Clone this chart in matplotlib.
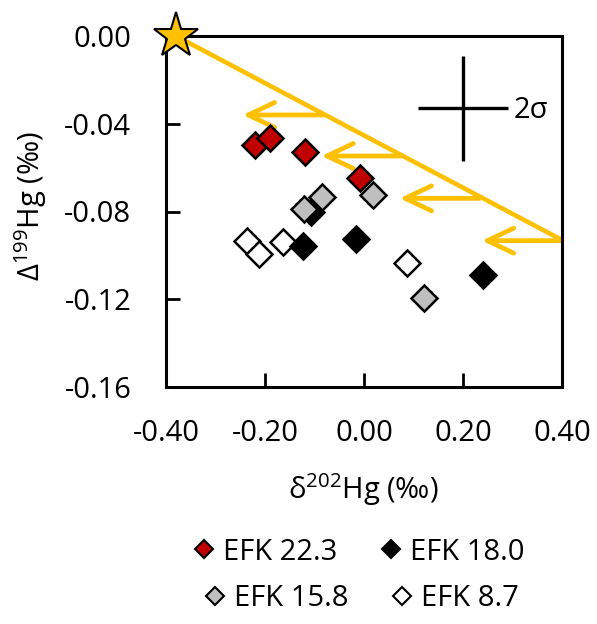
import matplotlib.pyplot as plt
from matplotlib.lines import Line2D

plt.rcParams['font.family'] = ['Open Sans', 'DejaVu Sans']
plt.rcParams['mathtext.fontset'] = 'custom'
plt.rcParams['mathtext.rm'] = 'Open Sans'

# delta202Hg / Delta199Hg (permil) per site
efk223_d202 = [-0.220, -0.190, -0.120, -0.008]
efk223_D199 = [-0.0497, -0.0464, -0.0527, -0.0649]
efk180_d202 = [-0.107, -0.123, -0.016, 0.240]
efk180_D199 = [-0.080, -0.0956, -0.0925, -0.109]
efk158_d202 = [-0.121, -0.084, 0.019, 0.122]
efk158_D199 = [-0.079, -0.0735, -0.0725, -0.1196]
efk87_d202 = [-0.237, -0.212, -0.163, 0.086]
efk87_D199 = [-0.0933, -0.0994, -0.0940, -0.1036]

# source end-member and mixing line
source_d202, source_D199 = -0.38, 0.00
mix_d202, mix_D199 = 0.40, -0.093

# MDF shift arrows starting on the mixing line
arrow_d202 = [-0.083, 0.076, 0.234, 0.40]
arrow_D199 = [-0.036, -0.0547, -0.074, -0.0933]
arrow_shift = -0.162

# analytical uncertainty (2 sigma)
sig_d202, sig_D199 = 0.20, -0.033
sig_x, sig_y = 0.09, 0.024

yellow = '#FFC000'
fs = 21

fig = plt.figure(figsize=(5.97, 6.24), dpi=100)
ax = fig.add_axes([166 / 597, 1 - 387 / 624, 396 / 597, 351 / 624])

ax.plot([source_d202, mix_d202], [source_D199, mix_D199], color=yellow, lw=3.3,
        solid_capstyle='butt', zorder=2, clip_on=False)
for x, y in zip(arrow_d202, arrow_D199):
    ax.annotate('', xy=(x + arrow_shift, y), xytext=(x, y),
                arrowprops=dict(arrowstyle='->,head_length=19,head_width=9',
                                mutation_scale=1, color=yellow, lw=3.4,
                                shrinkA=0, shrinkB=0),
                annotation_clip=False, zorder=2)

ax.plot(source_d202, source_D199, marker='*', ms=34, mfc=yellow, mec='black',
        mew=1.5, clip_on=False, zorder=6)

ax.errorbar(sig_d202, sig_D199, xerr=sig_x, yerr=sig_y, fmt='none',
            ecolor='black', elinewidth=2.4, capsize=0)
ax.text(sig_d202 + sig_x + 0.012, sig_D199 - 0.0008, '2σ', ha='left',
        va='center', fontsize=fs)

mk = dict(marker='D', ms=13, mec='black', mew=1.8, ls='none')
ax.plot(efk87_d202, efk87_D199, mfc='white', zorder=3, **mk)
ax.plot(efk180_d202, efk180_D199, mfc='black', zorder=4, **mk)
ax.plot(efk158_d202, efk158_D199, mfc='#BFBFBF', zorder=5, **mk)
ax.plot(efk223_d202, efk223_D199, mfc='#C00000', zorder=5, **mk)

ax.set_xlim(-0.4, 0.4)
ax.set_ylim(-0.16, 0.0)
xt = [-0.4, -0.2, 0.0, 0.2, 0.4]
yt = [0.0, -0.04, -0.08, -0.12, -0.16]
ax.set_xticks(xt, ['%.2f' % v for v in xt])
ax.set_yticks(yt, ['%.2f' % v for v in yt])
ax.tick_params(direction='in', length=10, width=2, labelsize=fs)
ax.tick_params(axis='x', pad=23)
ax.tick_params(axis='y', pad=25)
for s in ax.spines.values():
    s.set_linewidth(2.2)

fig.text(363 / 597, 1 - 490 / 624, r'$\mathregular{\delta^{202}}$Hg (‰)',
         ha='center', va='center', fontsize=fs)
fig.text(31 / 597, 1 - 206 / 624, r'$\mathregular{\Delta^{199}}$Hg (‰)',
         ha='center', va='center', rotation=90, fontsize=fs)

lk = dict(marker='D', ms=9, mec='black', mew=1.5, ls='none')
row1 = [Line2D([], [], mfc='#C00000', **lk), Line2D([], [], mfc='black', **lk)]
row2 = [Line2D([], [], mfc='#BFBFBF', **lk), Line2D([], [], mfc='white', **lk)]
legkw = dict(loc='center', ncol=2, frameon=False, fontsize=fs, handlelength=0.7,
             handletextpad=0.3, columnspacing=1.5, borderpad=0)
fig.legend(row1, ['EFK 22.3', 'EFK 18.0'], bbox_to_anchor=(359 / 597, 1 - 552 / 624), **legkw)
fig.legend(row2, ['EFK 15.8', 'EFK 8.7'], bbox_to_anchor=(362 / 597, 1 - 599 / 624), **legkw)

fig.savefig('out.png', dpi=100)
